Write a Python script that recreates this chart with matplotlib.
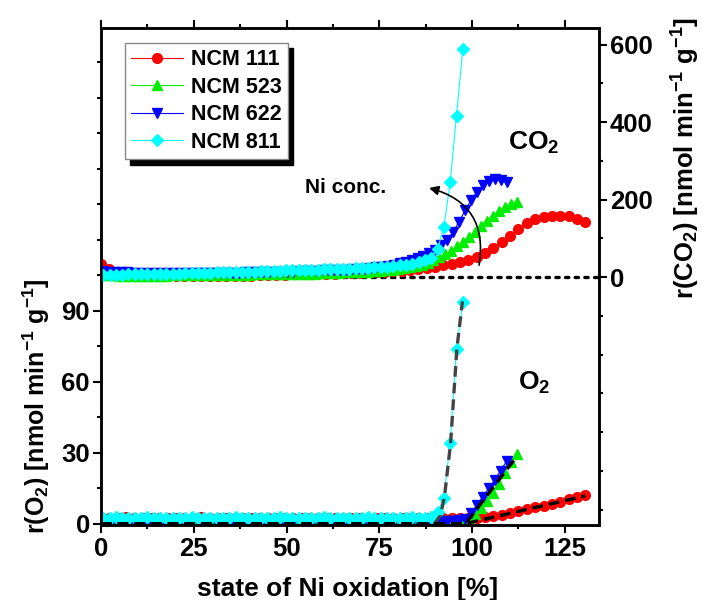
import matplotlib
matplotlib.use("Agg")
import matplotlib.pyplot as plt
from matplotlib.ticker import FixedLocator

plt.rcParams['font.family'] = ['Liberation Sans', 'DejaVu Sans']
plt.rcParams['font.weight'] = 'bold'
plt.rcParams['mathtext.fontset'] = 'custom'
plt.rcParams['mathtext.rm'] = 'Liberation Sans:bold'
plt.rcParams['mathtext.it'] = 'Liberation Sans:bold'
plt.rcParams['mathtext.bf'] = 'Liberation Sans:bold'
plt.rcParams['mathtext.default'] = 'bf'

# ---------------- data ----------------
labels = ['NCM 111', 'NCM 523', 'NCM 622', 'NCM 811']
colors = ['#ff0000', '#00ee00', '#0000ff', '#00ffff']
markers = ['o', '^', 'v', 'D']

x_111 = [0, 2.25, 4.5, 6.75, 9, 11.25, 13.5, 15.75, 18, 20.25,
         22.5, 24.75, 27, 29.25, 31.5, 33.75, 36, 38.25, 40.5, 42.75,
         45, 47.25, 49.5, 51.75, 54, 56.25, 58.5, 60.75, 63, 65.25,
         67.5, 69.75, 72, 74.25, 76.5, 78.75, 81, 83.25, 85.5, 87.75,
         90, 92.25, 94.5, 96.75, 99, 101.25, 103.5, 105.75, 108, 110.25,
         112.5, 114.75, 117, 119.25, 121.5, 123.75, 126, 128.25, 130.5]
co2_111 = [35, 22, 12, 7, 5, 4, 3, 3, 2, 2,
           2, 2, 3, 3, 3, 3, 4, 4, 4, 5,
           5, 6, 6, 7, 7, 8, 8, 9, 9, 10,
           10, 11, 12, 13, 14, 15, 16, 18, 20, 23,
           27, 31, 35, 40, 45, 52, 62, 74, 90, 106,
           125, 140, 149, 154, 157, 158, 157, 150, 141]
o2_111 = [2.6, 2.4, 2.5, 2.7, 2.3, 2.5, 2.6, 2.4, 2.5, 2.6,
          2.4, 2.5, 2.7, 2.5, 2.4, 2.6, 2.5, 2.3, 2.5, 2.6,
          2.4, 2.5, 2.6, 2.5, 2.4, 2.6, 2.5, 2.4, 2.5, 2.6,
          2.4, 2.5, 2.6, 2.5, 2.4, 2.5, 2.6, 2.5, 2.4, 2.5,
          2.6, 2.5, 2.4, 2.5, 2.5, 2.6, 2.9, 3.2, 3.9, 4.6,
          5.3, 6.1, 6.9, 7.7, 8.5, 9.4, 10.3, 11.2, 12.1]

x_523 = [0, 1.6, 3.2, 4.8, 6.4, 8.0, 9.6, 11.2, 12.8, 14.4,
         16.0, 17.6, 19.2, 20.8, 22.4, 24.0, 25.6, 27.2, 28.8, 30.4,
         32.0, 33.6, 35.2, 36.8, 38.4, 40.0, 41.6, 43.2, 44.8, 46.4,
         48.0, 49.6, 51.2, 52.8, 54.4, 56.0, 57.6, 59.2, 60.8, 62.4,
         64.0, 65.6, 67.2, 68.8, 70.4, 72.0, 73.6, 75.2, 76.8, 78.4,
         80.0, 81.6, 83.2, 84.8, 86.4, 88.0, 89.6, 91.2, 92.8, 94.4,
         96.0, 97.6, 99.2, 100.8, 102.4, 104.0, 105.6, 107.2, 108.8, 110.4,
         112.0]
co2_523 = [6, 5, 5, 4, 4, 4, 4, 4, 4, 4,
           4, 4, 5, 5, 5, 5, 5, 5, 5, 5,
           6, 6, 6, 6, 6, 6, 7, 7, 7, 7,
           7, 8, 8, 8, 9, 9, 9, 10, 10, 11,
           11, 12, 12, 13, 14, 14, 15, 16, 17, 19,
           21, 23, 26, 29, 32, 37, 44, 52, 59, 67,
           79, 91, 103, 116, 132, 146, 158, 170, 181, 189,
           195]
o2_523 = [1.6, 1.5, 1.7, 1.5, 1.6, 1.4, 1.6, 1.5, 1.7, 1.5,
          1.6, 1.5, 1.4, 1.6, 1.5, 1.7, 1.5, 1.6, 1.5, 1.4,
          1.6, 1.5, 1.7, 1.5, 1.6, 1.4, 1.6, 1.5, 1.7, 1.5,
          1.6, 1.5, 1.4, 1.6, 1.5, 1.7, 1.5, 1.6, 1.5, 1.4,
          1.6, 1.5, 1.7, 1.5, 1.6, 1.4, 1.6, 1.5, 1.7, 1.5,
          1.6, 1.5, 1.4, 1.6, 1.5, 1.7, 1.5, 1.6, 1.6, 1.7,
          1.8, 1.9, 2.4, 4.0, 6.5, 9.5, 13.0, 17.0, 21.5, 26.0,
          29.5]

x_622 = [0.5, 2.1, 3.7, 5.3, 6.9, 8.5, 10.1, 11.7, 13.3, 14.9,
         16.5, 18.1, 19.7, 21.3, 22.9, 24.5, 26.1, 27.7, 29.3, 30.9,
         32.5, 34.1, 35.7, 37.3, 38.9, 40.5, 42.1, 43.7, 45.3, 46.9,
         48.5, 50.1, 51.7, 53.3, 54.9, 56.5, 58.1, 59.7, 61.3, 62.9,
         64.5, 66.1, 67.7, 69.3, 70.9, 72.5, 74.1, 75.7, 77.3, 78.9,
         80.5, 82.1, 83.7, 85.3, 86.9, 88.5, 90.1, 91.7, 93.3, 94.9,
         96.5, 98.1, 99.7, 101.3, 102.9, 104.5, 106.1, 107.7, 109.3]
co2_622 = [15, 14, 13, 12, 12, 11, 11, 10, 10, 10,
           10, 10, 10, 10, 10, 10, 10, 10, 10, 11,
           11, 11, 11, 11, 12, 12, 12, 12, 13, 13,
           13, 14, 14, 15, 15, 16, 16, 17, 17, 18,
           19, 19, 20, 21, 22, 23, 25, 27, 29, 32,
           36, 40, 44, 49, 55, 62, 70, 82, 96, 117,
           143, 172, 198, 220, 237, 247, 252, 251, 246]
o2_622 = [1.2, 1.1, 1.3, 1.2, 1.1, 1.2, 1.3, 1.1, 1.2, 1.2,
          1.1, 1.3, 1.2, 1.1, 1.2, 1.3, 1.1, 1.2, 1.2, 1.1,
          1.3, 1.2, 1.1, 1.2, 1.3, 1.1, 1.2, 1.2, 1.1, 1.3,
          1.2, 1.1, 1.2, 1.3, 1.1, 1.2, 1.2, 1.1, 1.3, 1.2,
          1.1, 1.2, 1.3, 1.1, 1.2, 1.2, 1.1, 1.3, 1.2, 1.1,
          1.2, 1.3, 1.1, 1.2, 1.2, 1.1, 1.3, 1.2, 1.3, 1.4,
          1.6, 2.2, 4.5, 8.0, 11.5, 15.0, 18.5, 22.5, 26.5]

x_811 = [0.6, 2.3, 4.0, 5.7, 7.4, 9.1, 10.8, 12.5, 14.2, 15.9,
         17.6, 19.3, 21.0, 22.7, 24.4, 26.1, 27.8, 29.5, 31.2, 32.9,
         34.6, 36.3, 38.0, 39.7, 41.4, 43.1, 44.8, 46.5, 48.2, 49.9,
         51.6, 53.3, 55.0, 56.7, 58.4, 60.1, 61.8, 63.5, 65.2, 66.9,
         68.6, 70.3, 72.0, 73.7, 75.4, 77.1, 78.8, 80.5, 82.2, 83.9,
         85.6, 87.3, 89.0, 90.7, 92.4, 94.1, 95.8, 97.5]
co2_811 = [5, 5, 6, 6, 7, 7, 7, 8, 8, 8,
           9, 9, 9, 10, 10, 10, 11, 11, 12, 12,
           12, 13, 13, 14, 14, 15, 15, 16, 16, 17,
           17, 18, 18, 19, 19, 20, 20, 21, 21, 22,
           23, 23, 24, 25, 26, 27, 28, 30, 32, 35,
           38, 43, 50, 72, 130, 245, 417, 588]
o2_811 = [2.6, 2.4, 2.7, 2.5, 2.3, 2.6, 2.5, 2.7, 2.4, 2.6,
          2.5, 2.3, 2.6, 2.5, 2.7, 2.4, 2.6, 2.5, 2.3, 2.6,
          2.5, 2.7, 2.4, 2.6, 2.5, 2.3, 2.6, 2.5, 2.7, 2.4,
          2.6, 2.5, 2.3, 2.6, 2.5, 2.7, 2.4, 2.6, 2.5, 2.3,
          2.6, 2.5, 2.7, 2.4, 2.6, 2.5, 2.3, 2.6, 2.5, 2.7,
          2.4, 2.6, 2.8, 4.9, 11.0, 34.3, 74.0, 93.8]

# onset fits of the O2 traces
fit811_x = [0, 89.8, 91.5, 92.6, 94.2, 95.9, 97.4]
fit811_y = [0, 0, 3.5, 12, 34, 74, 94]
fit622_x = [0, 98.2, 112.0]
fit622_y = [0, 0, 28.4]
fit111_x = [0, 98.0, 130.5]
fit111_y = [0, 0, 11.8]

xs = [x_111, x_523, x_622, x_811]
co2s = [co2_111, co2_523, co2_622, co2_811]
o2s = [o2_111, o2_523, o2_622, o2_811]
msizes = [7, 7.5, 7.5, 6]

# ---------------- figure ----------------
fig = plt.figure(figsize=(7.02, 6.0), dpi=100)
ax = fig.add_axes([101/702, 1-525/600, 498/702, 497/600])
ax2 = ax.twinx()

ax.set_xlim(0, 134.2)
ax.set_ylim(-0.5, 209.5)
ax2.set_ylim(-640, 643)

handles = []
for x, c, o, col, m, ms, lab in zip(xs, co2s, o2s, colors, markers, msizes, labels):
    ax.plot(x, o, color=col, lw=0.8, marker=m, ms=ms, mec=col, mfc=col, zorder=2)
    h, = ax2.plot(x, c, color=col, lw=0.8, marker=m, ms=ms, mec=col, mfc=col,
                  label=lab, zorder=2)
    handles.append(h)

dash = (0, (3.2, 1.8))
ax.plot(fit811_x, fit811_y, color='#444444', lw=2.4, ls=dash, zorder=4)
ax.plot(fit622_x, fit622_y, color='black', lw=2.4, ls=dash, zorder=4)
ax.plot(fit111_x, fit111_y, color='black', lw=2.4, ls=dash, zorder=4)

ax2.axhline(0, color='black', lw=2.4, ls=(0, (1, 1.9)), dash_capstyle='round', zorder=1)

# ---------------- axes / ticks ----------------
for a in (ax, ax2):
    for s in a.spines.values():
        s.set_linewidth(1.8)

ax.xaxis.set_major_locator(FixedLocator([0, 25, 50, 75, 100, 125]))
ax.xaxis.set_minor_locator(FixedLocator([12.5, 37.5, 62.5, 87.5, 112.5]))
ax.yaxis.set_major_locator(FixedLocator([0, 30, 60, 90]))
ax.yaxis.set_minor_locator(FixedLocator([15, 45, 75, 105, 120, 135, 150, 165, 180, 195]))
ax2.yaxis.set_major_locator(FixedLocator([0, 200, 400, 600]))
ax2.yaxis.set_minor_locator(FixedLocator([-600, -500, -400, -300, -200, -100, 100, 300, 500]))

ax.tick_params(axis='x', which='both', direction='out', top=True, labeltop=False,
               labelsize=18.5, pad=3.5)
ax.tick_params(axis='y', which='both', direction='out', right=False, labelsize=18.5, pad=2.5)
ax2.tick_params(axis='y', which='both', direction='out', labelsize=18.5, pad=2.5)
for a in (ax, ax2):
    a.tick_params(which='major', length=5.5, width=1.5)
    a.tick_params(which='minor', length=3, width=1.5)

# axis labels
fig.text(36/702, 1-406/600, r'r(O$_2$) [nmol min$^{-1}$ g$^{-1}$]', rotation=90,
         ha='center', va='center', fontsize=18, fontweight='bold')
fig.text(686/702, 1-158/600, r'r(CO$_2$) [nmol min$^{-1}$ g$^{-1}$]', rotation=90,
         ha='center', va='center', fontsize=18.5, fontweight='bold')
fig.text(348/702, 1-596/600, 'state of Ni oxidation [%]', ha='center', va='baseline',
         fontsize=19, fontweight='bold')

# annotations
ax2.text(109.6, 328, r'CO$_2$', fontsize=19, fontweight='bold', ha='left', va='baseline')
ax.text(112.3, 56.6, r'O$_2$', fontsize=19, fontweight='bold', ha='left', va='baseline')
ax2.text(55, 217, 'Ni conc.', fontsize=15, fontweight='bold', ha='left', va='baseline')
ax2.annotate('', xy=(88.4, 230), xytext=(101.9, 31),
             arrowprops=dict(arrowstyle='-|>', connectionstyle='arc3,rad=0.45',
                             color='black', lw=1.2, mutation_scale=14,
                             shrinkA=0, shrinkB=0))

leg = ax2.legend(handles=handles, loc='upper left', bbox_to_anchor=(0.048, 0.970),
                 borderaxespad=0, prop={'size': 15.5, 'weight': 'bold'},
                 handlelength=2.4, handletextpad=0.35, labelspacing=0.3,
                 borderpad=0.3, fancybox=False, edgecolor='#888888', framealpha=1,
                 shadow={'ox': 4, 'oy': -4, 'color': 'black', 'alpha': 1})
leg.get_frame().set_linewidth(1.0)

fig.savefig('out.png', dpi=100, facecolor='white')
